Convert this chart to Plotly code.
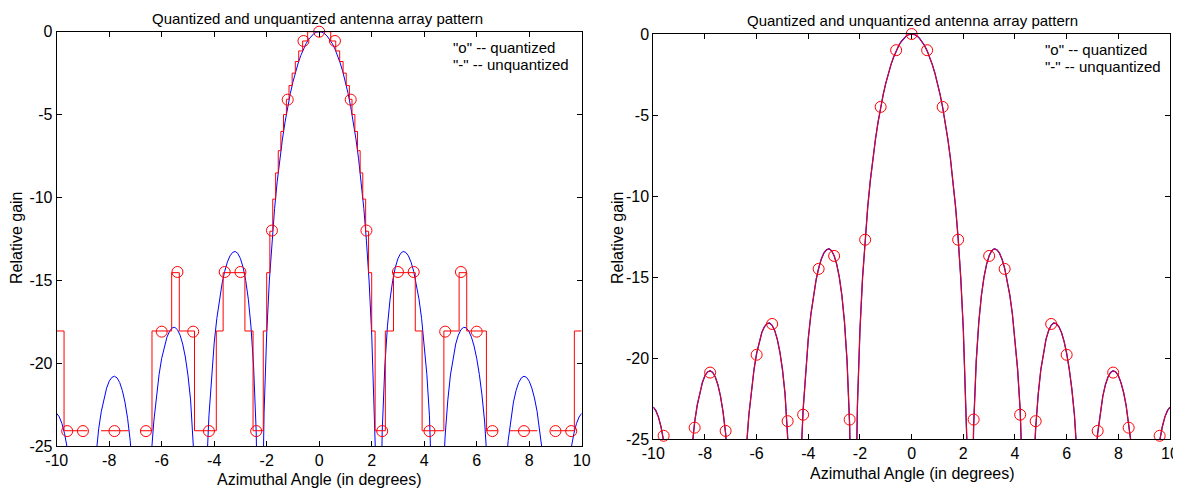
import plotly.graph_objects as go

# ---------------- data ----------------
angle_deg = [round(-10 + 0.1 * i, 1) for i in range(201)]

unquantized_db = [
    -23.03, -23.25, -23.65, -24.26, -25.12, -26.29, -27.88, -30.1, -33.4, -39.2,
    -50.0, -39.0, -33.0, -29.5, -27.1, -25.33, -23.96, -22.91, -22.10, -21.51,
    -21.09, -20.86, -20.79, -20.89, -21.17, -21.65, -22.35, -23.33, -24.66, -26.49,
    -29.1, -33.3, -42.7, -42.5, -32.9, -28.48, -25.59, -23.50, -21.91, -20.68,
    -19.71, -18.97, -18.43, -18.07, -17.87, -17.84, -17.98, -18.31, -18.85, -19.63,
    -20.72, -22.22, -24.34, -27.53, -33.3, -45.0, -32.9, -26.76, -23.18, -20.67,
    -18.78, -17.30, -16.12, -15.19, -14.46, -13.91, -13.53, -13.32, -13.26, -13.38,
    -13.69, -14.22, -15.01, -16.14, -17.77, -20.18, -24.15, -33.3, -32.9, -22.99,
    -18.24, -15.04, -12.62, -10.67, -9.05, -7.67, -6.48, -5.44, -4.53, -3.73,
    -3.03, -2.42, -1.89, -1.43, -1.04, -0.72, -0.46, -0.26, -0.11, -0.03,
    0.0,
    -0.03, -0.11, -0.26, -0.46, -0.72, -1.04, -1.43, -1.89, -2.42, -3.03,
    -3.73, -4.53, -5.44, -6.48, -7.67, -9.05, -10.67, -12.62, -15.04, -18.24,
    -22.99, -32.9, -33.3, -24.15, -20.18, -17.77, -16.14, -15.01, -14.22, -13.69,
    -13.38, -13.26, -13.32, -13.53, -13.91, -14.46, -15.19, -16.12, -17.30, -18.78,
    -20.67, -23.18, -26.76, -32.9, -45.0, -33.3, -27.53, -24.34, -22.22, -20.72,
    -19.63, -18.85, -18.31, -17.98, -17.84, -17.87, -18.07, -18.43, -18.97, -19.71,
    -20.68, -21.91, -23.50, -25.59, -28.48, -32.9, -42.5, -42.7, -33.3, -29.1,
    -26.49, -24.66, -23.33, -22.35, -21.65, -21.17, -20.89, -20.79, -20.86, -21.09,
    -21.51, -22.10, -22.91, -23.96, -25.33, -27.1, -29.5, -33.0, -39.0, -50.0,
    -39.2, -33.4, -30.1, -27.88, -26.29, -25.12, -24.26, -23.65, -23.25, -23.03,
]

# left panel: coarse quantized pattern drawn as a staircase
stair_edges = [
    -10.0, -9.72, -8.83, -8.31, -7.25, -6.82, -6.37, -5.62, -5.33, -4.75,
    -3.92, -3.66, -2.83, -2.52, -2.13, -2.00, -1.88, -1.77, -1.66, -1.56,
    -1.46, -1.36, -1.25, -1.15, -1.03, -0.91, -0.78, -0.63, -0.44,
    0.44, 0.63, 0.78, 0.91, 1.03, 1.15, 1.25, 1.36, 1.46, 1.56,
    1.66, 1.77, 1.88, 2.00, 2.13, 2.52, 2.83, 3.66, 3.92, 4.75,
    5.33, 5.62, 6.37, 6.82, 7.25, 8.31, 8.83, 9.72, 10.0,
]
stair_levels = [
    -18.06, -24.08, None, -24.08, None, -24.08, -18.06, -14.54, -18.06, -24.08,
    -18.06, -14.54, -18.06, -24.08, -18.06, -14.54, -12.04, -10.10, -8.52, -7.18,
    -6.02, -5.00, -4.08, -3.25, -2.50, -1.80, -1.16, -0.56,
    0.0,
    -0.56, -1.16, -1.80, -2.50, -3.25, -4.08, -5.00, -6.02, -7.18, -8.52,
    -10.10, -12.04, -14.54, -18.06, -24.08, -18.06, -14.54, -18.06, -24.08, -18.06,
    -14.54, -18.06, -24.08, None, -24.08, None, -24.08, -18.06,
]

left_marker_x = [-9.6, -9.0, -7.8, -6.6, -6.0, -5.4, -4.8, -4.2, -3.6, -3.0, -2.4, -1.8, -1.2, -0.6, 0.0,
                 0.6, 1.2, 1.8, 2.4, 3.0, 3.6, 4.2, 4.8, 5.4, 6.0, 6.6, 7.8, 9.0, 9.6]
left_marker_db = [-24.1, -24.1, -24.1, -24.1, -18.1, -14.5, -18.1, -24.1, -14.5, -14.5, -24.1, -12.0, -4.1, -0.56, 0.0,
                  -0.56, -4.1, -12.0, -24.1, -14.5, -14.5, -24.1, -18.1, -14.5, -18.1, -24.1, -24.1, -24.1, -24.1]

# right panel: finely quantized pattern samples
right_marker_x = [-9.6, -8.4, -7.8, -7.2, -6.0, -5.4, -4.8, -4.2, -3.6, -3.0, -2.4, -1.8, -1.2, -0.6, 0.0,
                  0.6, 1.2, 1.8, 2.4, 3.0, 3.6, 4.2, 4.8, 5.4, 6.0, 7.2, 7.8, 8.4, 9.6]
right_marker_db = [-24.8, -24.3, -20.9, -24.5, -19.8, -17.9, -23.9, -23.5, -14.5, -13.7, -23.8, -12.7, -4.5, -1.0, 0.0,
                   -1.0, -4.5, -12.7, -23.8, -13.7, -14.5, -23.5, -23.9, -17.9, -19.8, -24.5, -20.9, -24.3, -24.8]

x_tick_vals = [-10, -8, -6, -4, -2, 0, 2, 4, 6, 8, 10]
x_tick_text = ["-10", "-8", "-6", "-4", "-2", "0", "2", "4", "6", "8", "10"]
y_tick_vals = [-25, -20, -15, -10, -5, 0]
y_tick_text = ["-25", "-20", "-15", "-10", "-5", "0"]

title_text = "Quantized and unquantized antenna array pattern"
x_label = "Azimuthal Angle (in degrees)"
y_label = "Relative gain"
legend_lines = ['"o" -- quantized', '"-" -- unquantized']

# ---------------- build staircase polyline ----------------
stair_x, stair_y = [], []
for i, lvl in enumerate(stair_levels):
    if lvl is None:
        stair_x.append(None)
        stair_y.append(None)
    else:
        stair_x += [stair_edges[i], stair_edges[i + 1]]
        stair_y += [lvl, lvl]

# the page body keeps an 8px margin, so the figure is drawn 8px in from the window corner
OFF = 8
WIN_W, WIN_H = 1181, 490
W, H = WIN_W - OFF, WIN_H - OFF
FONT = "Liberation Sans, Arial, Helvetica, sans-serif"
RED = "rgb(255,0,0)"
BLUE = "rgb(0,0,255)"


def px(x):
    return (x - OFF) / W


def py(y):
    return 1 - (y - OFF) / H


fig = go.Figure()

# left panel
fig.add_trace(go.Scatter(x=angle_deg, y=unquantized_db, mode="lines",
                         line=dict(color=BLUE, width=1), xaxis="x", yaxis="y"))
fig.add_trace(go.Scatter(x=stair_x, y=stair_y, mode="lines", connectgaps=False,
                         line=dict(color=RED, width=1), xaxis="x", yaxis="y"))
fig.add_trace(go.Scatter(x=left_marker_x, y=left_marker_db, mode="markers", cliponaxis=False,
                         marker=dict(symbol="circle-open", size=11, color=RED, line=dict(width=1, color=RED)),
                         xaxis="x", yaxis="y"))

# right panel
fig.add_trace(go.Scatter(x=angle_deg, y=unquantized_db, mode="lines",
                         line=dict(color=BLUE, width=1.3), xaxis="x2", yaxis="y2"))
fig.add_trace(go.Scatter(x=angle_deg, y=unquantized_db, mode="lines",
                         line=dict(color=RED, width=1), xaxis="x2", yaxis="y2"))
fig.add_trace(go.Scatter(x=right_marker_x, y=right_marker_db, mode="markers", cliponaxis=False,
                         marker=dict(symbol="circle-open", size=11, color=RED, line=dict(width=1, color=RED)),
                         xaxis="x2", yaxis="y2"))

axis_common = dict(showgrid=False, zeroline=False, showline=True, linecolor="black", linewidth=1,
                   mirror="ticks", ticks="inside", ticklen=5, tickcolor="black", tickwidth=1,
                   automargin=False,
                   tickfont=dict(family=FONT, size=16, color="black"), fixedrange=True)

L = dict(x0=56.7, x1=581.7, y0=31.7, y1=446.0)
R = dict(x0=653.3, x1=1170.0, y0=34.0, y1=439.0)

fig.update_layout(
    width=W, height=H, margin=dict(l=0, r=0, t=0, b=0, autoexpand=False),
    paper_bgcolor="white", plot_bgcolor="white", showlegend=False,
    xaxis=dict(domain=[px(L["x0"]), px(L["x1"])], range=[-10, 10], anchor="y",
               tickvals=x_tick_vals, ticktext=x_tick_text, **axis_common),
    yaxis=dict(domain=[py(L["y1"]), py(L["y0"])], range=[-25, 0], anchor="x",
               tickvals=y_tick_vals, ticktext=y_tick_text, **axis_common),
    xaxis2=dict(domain=[px(R["x0"]), px(R["x1"])], range=[-10, 10], anchor="y2",
                tickvals=x_tick_vals, ticktext=x_tick_text, **axis_common),
    yaxis2=dict(domain=[py(R["y1"]), py(R["y0"])], range=[-25, 0], anchor="x2",
                tickvals=y_tick_vals, ticktext=y_tick_text, **axis_common),
)

ann = []


def text(x, y, s, size=16, xanchor="center", yanchor="middle", angle=0):
    ann.append(dict(x=px(x), y=py(y), xref="paper", yref="paper", text=s, showarrow=False,
                    xanchor=xanchor, yanchor=yanchor, textangle=angle,
                    font=dict(family=FONT, size=size, color="black")))


# titles (anchored to the top edge of the figure so they are not clipped)
text(317, OFF, title_text, size=15, yanchor="top")
text(912, OFF + 1.5, title_text, size=15, yanchor="top")
# x labels
text(319, 479, x_label)
text(912, 473, x_label)
# y labels
text(16, 238, y_label, angle=-90)
text(617, 238, y_label, angle=-90)
# legend texts
text(451, 47, legend_lines[0], size=15, xanchor="left")
text(451, 64, legend_lines[1], size=15, xanchor="left")
text(1043, 49, legend_lines[0], size=15, xanchor="left")
text(1043, 66, legend_lines[1], size=15, xanchor="left")

fig.update_layout(annotations=ann)
fig.write_html("out.html")
